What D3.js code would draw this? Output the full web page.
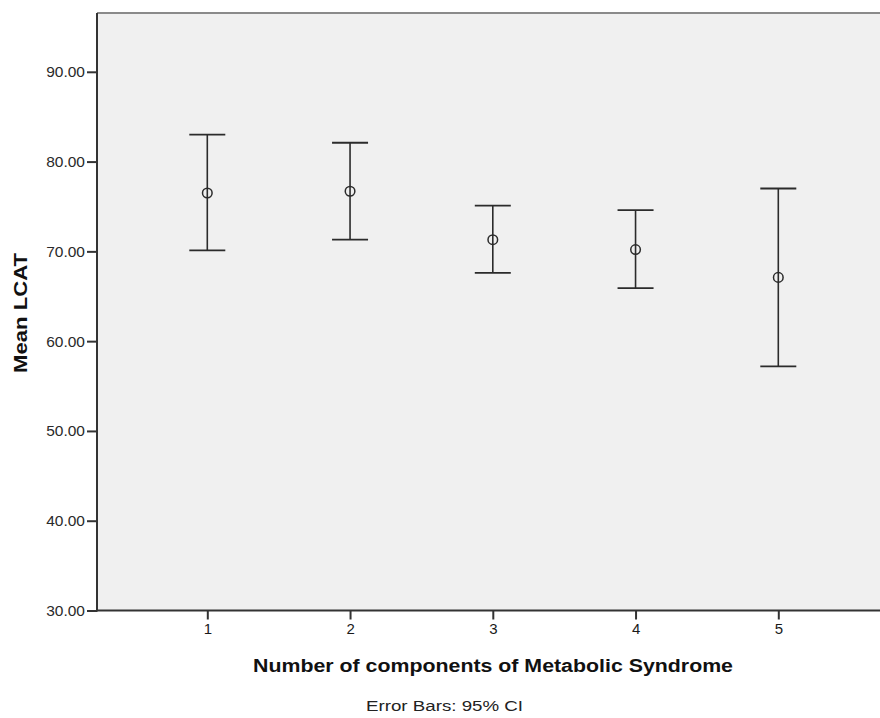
<!DOCTYPE html>
<html>
<head>
<meta charset="utf-8">
<script src="https://cdn.jsdelivr.net/npm/d3@7"></script>
<style>
  html, body { margin: 0; padding: 0; background: #ffffff; }
  svg { display: block; }
</style>
</head>
<body>
<svg id="chart" width="880" height="718"></svg>
<script>
// ---- data ----
const categories = [1, 2, 3, 4, 5];
const means = [76.5, 76.7, 71.3, 70.2, 67.1];
const lowerCI = [70.1, 71.3, 67.6, 65.9, 57.2];
const upperCI = [83.0, 82.1, 75.1, 74.6, 77.0];
const yTicks = [30, 40, 50, 60, 70, 80, 90];

(function () {
const svg = d3.select("#chart");
const pLeft = 97, pRight = 888, pTop = 13, pBottom = 610.5;

const x = d3.scaleLinear().domain([1, 5]).range([207.3, 778.3]);
const y = d3.scaleLinear().domain([30, 90]).range([pBottom, 71.8]);

// plot background
svg.append("rect")
  .attr("x", pLeft).attr("y", pTop)
  .attr("width", pRight - pLeft).attr("height", pBottom - pTop)
  .attr("fill", "#f0f0f0");

// top border
svg.append("line")
  .attr("x1", pLeft).attr("x2", pRight)
  .attr("y1", pTop).attr("y2", pTop)
  .attr("stroke", "#8a8a8a").attr("stroke-width", 2);

// y axis
const yAxis = d3.axisLeft(y).tickValues(yTicks)
  .tickFormat(d3.format(".2f")).tickSize(10).tickPadding(2);
const gy = svg.append("g").attr("transform", `translate(${pLeft},0)`).call(yAxis);
gy.select(".domain").remove();
gy.selectAll(".tick line").attr("stroke", "#333").attr("stroke-width", 2);
gy.selectAll(".tick text")
  .attr("fill", "#2a2a2a")
  .style("font-family", "Liberation Sans, Arial, sans-serif")
  .style("font-size", "15.5px");
svg.append("line")
  .attr("x1", pLeft).attr("x2", pLeft)
  .attr("y1", pTop).attr("y2", pBottom + 1)
  .attr("stroke", "#333").attr("stroke-width", 2);

// x axis
const xAxis = d3.axisBottom(x).tickValues(categories)
  .tickFormat(d3.format("d")).tickSize(9).tickPadding(4);
const gx = svg.append("g").attr("transform", `translate(0,${pBottom})`).call(xAxis);
gx.select(".domain").remove();
gx.selectAll(".tick line").attr("stroke", "#333").attr("stroke-width", 2);
gx.selectAll(".tick text")
  .attr("fill", "#1a1a1a")
  .style("font-family", "Liberation Sans, Arial, sans-serif")
  .style("font-size", "15px");
svg.append("line")
  .attr("x1", pLeft - 1).attr("x2", pRight)
  .attr("y1", pBottom).attr("y2", pBottom)
  .attr("stroke", "#333").attr("stroke-width", 2);

// error bars
const data = categories.map((c, i) => ({ c, m: means[i], lo: lowerCI[i], hi: upperCI[i] }));
const g = svg.append("g");
const capW = 18;
const stroke = "#2b2b2b";
g.selectAll("line.v").data(data).enter().append("line")
  .attr("x1", d => x(d.c)).attr("x2", d => x(d.c))
  .attr("y1", d => y(d.hi)).attr("y2", d => y(d.lo))
  .attr("stroke", stroke).attr("stroke-width", 1.6);
g.selectAll("line.hi").data(data).enter().append("line")
  .attr("x1", d => x(d.c) - capW).attr("x2", d => x(d.c) + capW)
  .attr("y1", d => y(d.hi)).attr("y2", d => y(d.hi))
  .attr("stroke", stroke).attr("stroke-width", 1.8);
g.selectAll("line.lo").data(data).enter().append("line")
  .attr("x1", d => x(d.c) - capW).attr("x2", d => x(d.c) + capW)
  .attr("y1", d => y(d.lo)).attr("y2", d => y(d.lo))
  .attr("stroke", stroke).attr("stroke-width", 1.8);
g.selectAll("circle").data(data).enter().append("circle")
  .attr("cx", d => x(d.c)).attr("cy", d => y(d.m))
  .attr("r", 4.8).attr("fill", "none")
  .attr("stroke", stroke).attr("stroke-width", 1.5);

// axis titles
svg.append("text")
  .attr("x", 253).attr("y", 672)
  .attr("textLength", 480).attr("lengthAdjust", "spacingAndGlyphs")
  .style("font-family", "Liberation Sans, Arial, sans-serif")
  .style("font-weight", "bold").style("font-size", "17.5px")
  .attr("fill", "#111")
  .text("Number of components of Metabolic Syndrome");

svg.append("text")
  .attr("transform", "translate(26.5,373) rotate(-90)")
  .attr("textLength", 120).attr("lengthAdjust", "spacingAndGlyphs")
  .style("font-family", "Liberation Sans, Arial, sans-serif")
  .style("font-weight", "bold").style("font-size", "17.5px")
  .attr("fill", "#111")
  .text("Mean LCAT");

svg.append("text")
  .attr("x", 366).attr("y", 711)
  .attr("textLength", 157).attr("lengthAdjust", "spacingAndGlyphs")
  .style("font-family", "Liberation Sans, Arial, sans-serif")
  .style("font-size", "15.5px")
  .attr("fill", "#222")
  .text("Error Bars: 95% CI");
})();
</script>
</body>
</html>
